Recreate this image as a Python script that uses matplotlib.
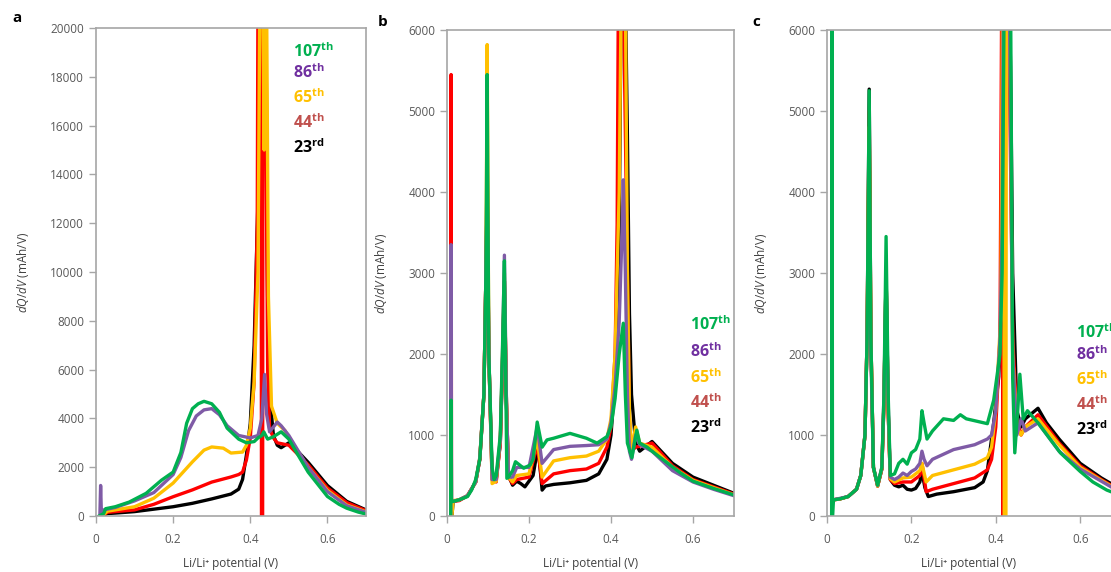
import matplotlib
matplotlib.use("Agg")
import matplotlib.pyplot as plt

plt.rcParams['font.family'] = ['Open Sans', 'DejaVu Sans']
plt.rcParams['mathtext.fontset'] = 'custom'
plt.rcParams['mathtext.rm'] = 'Open Sans'
plt.rcParams['mathtext.it'] = 'Open Sans:italic'
plt.rcParams['mathtext.bf'] = 'Open Sans:bold'

# cycle labels and colours
cycles = ["23rd", "44th", "65th", "86th", "107th"]
line_colors = ["#000000", "#FF0000", "#FFC000", "#7F5BA6", "#00B050"]
label_colors = ["#000000", "#C0504D", "#FFC000", "#7030A0", "#00B050"]

# ---- panel a ----
a_black_x = [0.015, 0.03, 0.05, 0.1, 0.15, 0.2, 0.25, 0.3, 0.35, 0.37, 0.38, 0.39, 0.40, 0.41, 0.42, 0.425,
             0.44, 0.445, 0.45, 0.46, 0.47, 0.48, 0.5, 0.52, 0.55, 0.6, 0.65, 0.7]
a_black_y = [0, 100, 120, 180, 280, 380, 520, 700, 900, 1100, 1500, 2500, 3800, 7000, 13000, 22000,
             22000, 9000, 5000, 3300, 2900, 2800, 3000, 2700, 2200, 1250, 600, 250]
a_red_x = [0.015, 0.03, 0.05, 0.1, 0.15, 0.2, 0.25, 0.3, 0.35, 0.37, 0.38, 0.39, 0.40, 0.41, 0.418, 0.42,
           0.428, 0.429, 0.432, 0.433, 0.438, 0.445, 0.45, 0.46, 0.47, 0.5, 0.55, 0.6, 0.65, 0.7]
a_red_y = [0, 150, 180, 250, 480, 790, 1070, 1390, 1600, 1700, 1800, 2300, 3200, 5500, 12000, 22000,
           22000, 0, 0, 22000, 22000, 6000, 3600, 3200, 3000, 2900, 2100, 1150, 550, 220]
a_yellow_x = [0.015, 0.03, 0.05, 0.1, 0.15, 0.2, 0.25, 0.28, 0.3, 0.33, 0.35, 0.38, 0.39, 0.4, 0.41, 0.42,
              0.425, 0.432, 0.436, 0.438, 0.442, 0.447, 0.455, 0.47, 0.49, 0.5, 0.55, 0.6, 0.65, 0.7]
a_yellow_y = [0, 200, 250, 380, 730, 1350, 2220, 2700, 2830, 2780, 2580, 2620, 2900, 3600, 5500, 10000,
              22000, 22000, 15000, 22000, 22000, 9000, 4500, 3800, 3500, 3200, 2000, 1050, 450, 170]
a_purple_x = [0.01, 0.012, 0.014, 0.02, 0.05, 0.1, 0.15, 0.2, 0.22, 0.24, 0.26, 0.28, 0.3, 0.32, 0.34,
              0.37, 0.4, 0.41, 0.42, 0.43, 0.437, 0.442, 0.45, 0.47, 0.48, 0.5, 0.55, 0.6, 0.65, 0.7]
a_purple_y = [0, 1250, 100, 250, 350, 620, 960, 1700, 2400, 3500, 4100, 4350, 4400, 4150, 3700,
              3300, 3200, 3250, 3300, 4000, 5800, 4200, 3450, 3850, 3700, 3300, 2000, 1000, 420, 150]
a_green_x = [0.008, 0.02, 0.025, 0.05, 0.086, 0.13, 0.17, 0.2, 0.22, 0.235, 0.25, 0.265, 0.28, 0.3, 0.32,
             0.34, 0.37, 0.39, 0.41, 0.42, 0.43, 0.435, 0.445, 0.46, 0.48, 0.5, 0.52, 0.55, 0.58, 0.6,
             0.63, 0.65, 0.68, 0.7]
a_green_y = [0, 100, 300, 380, 570, 930, 1470, 1800, 2600, 3800, 4400, 4600, 4700, 4600, 4250,
             3600, 3150, 3000, 3050, 3200, 3300, 3450, 3150, 3250, 3450, 3150, 2600, 1800, 1200, 800,
             480, 320, 160, 80]

# ---- panel b ----
b_black_x = [0.012, 0.015, 0.03, 0.05, 0.07, 0.08, 0.09, 0.095, 0.098, 0.102, 0.11, 0.12, 0.13, 0.135,
             0.14, 0.145, 0.15, 0.16, 0.17, 0.18, 0.19, 0.2, 0.21, 0.22, 0.225, 0.232, 0.24, 0.26, 0.3,
             0.34, 0.37, 0.39, 0.4, 0.41, 0.42, 0.425, 0.435, 0.44, 0.445, 0.45, 0.46, 0.47, 0.5, 0.55,
             0.6, 0.65, 0.7]
b_black_y = [0, 180, 200, 250, 420, 700, 1500, 3000, 4000, 2000, 500, 450, 900, 1800,
             2900, 1400, 500, 380, 430, 400, 360, 430, 500, 800, 700, 320, 370, 390, 410,
             440, 520, 700, 1000, 1700, 3500, 6500, 6500, 4700, 2500, 1500, 900, 800, 920, 650,
             480, 380, 280]
b_red_x = [0.009, 0.01, 0.011, 0.015, 0.03, 0.05, 0.07, 0.08, 0.09, 0.095, 0.098, 0.102, 0.11, 0.12,
           0.13, 0.135, 0.14, 0.145, 0.15, 0.16, 0.17, 0.2, 0.22, 0.232, 0.26, 0.3, 0.34, 0.37, 0.39,
           0.4, 0.41, 0.415, 0.418, 0.43, 0.44, 0.445, 0.45, 0.46, 0.5, 0.55, 0.6, 0.65, 0.7]
b_red_y = [0, 5450, 180, 180, 190, 250, 420, 700, 1500, 3000, 4500, 2000, 450, 420,
           900, 1800, 2900, 1400, 480, 400, 450, 480, 880, 400, 520, 560, 580, 650, 850,
           1100, 2000, 3600, 6500, 6500, 3000, 1200, 800, 850, 900, 620, 450, 360, 270]
b_yellow_x = [0.012, 0.015, 0.03, 0.05, 0.07, 0.08, 0.09, 0.095, 0.098, 0.102, 0.11, 0.12, 0.13, 0.135,
              0.14, 0.145, 0.15, 0.16, 0.17, 0.2, 0.22, 0.232, 0.26, 0.3, 0.34, 0.37, 0.39, 0.4, 0.41,
              0.42, 0.425, 0.435, 0.44, 0.445, 0.45, 0.46, 0.47, 0.5, 0.55, 0.6, 0.65, 0.7]
b_yellow_y = [0, 190, 200, 250, 420, 720, 1500, 3000, 5820, 2000, 400, 430, 950, 1900,
              3000, 1400, 480, 420, 500, 520, 950, 480, 680, 720, 740, 800, 950, 1200, 2000,
              4000, 6500, 6500, 3000, 1300, 800, 1100, 900, 850, 600, 440, 350, 260]
b_purple_x = [0.009, 0.01, 0.011, 0.015, 0.03, 0.05, 0.07, 0.08, 0.09, 0.095, 0.098, 0.102, 0.11, 0.12,
              0.13, 0.135, 0.14, 0.145, 0.15, 0.16, 0.17, 0.2, 0.22, 0.232, 0.26, 0.3, 0.34, 0.37, 0.39,
              0.4, 0.41, 0.42, 0.427, 0.43, 0.435, 0.44, 0.445, 0.45, 0.46, 0.47, 0.5, 0.55, 0.6, 0.65,
              0.7]
b_purple_y = [0, 3350, 180, 180, 200, 250, 420, 720, 1500, 3000, 4000, 2000, 450, 450,
              950, 1900, 3220, 1400, 480, 480, 600, 600, 1100, 650, 820, 860, 870, 880, 950,
              1150, 1600, 2400, 3500, 4150, 3000, 1500, 800, 700, 1000, 880, 800, 560, 420, 330,
              250]
b_green_x = [0.009, 0.01, 0.011, 0.015, 0.03, 0.05, 0.06, 0.07, 0.08, 0.09, 0.095, 0.098, 0.102, 0.11,
             0.115, 0.12, 0.13, 0.135, 0.14, 0.146, 0.15, 0.16, 0.167, 0.187, 0.203, 0.21, 0.22,
             0.232, 0.244, 0.26, 0.3, 0.34, 0.366, 0.39, 0.4, 0.41, 0.42, 0.43, 0.435, 0.44, 0.451,
             0.463, 0.47, 0.488, 0.5, 0.57, 0.6, 0.65, 0.7]
b_green_y = [0, 1430, 180, 180, 200, 240, 320, 450, 700, 1500, 3000, 5450, 2000, 600,
             450, 500, 1000, 2000, 3150, 465, 480, 560, 670, 590, 630, 700, 1160,
             850, 940, 960, 1020, 960, 900, 980, 1100, 1450, 2000, 2380, 1500, 900, 720,
             1060, 900, 850, 800, 530, 430, 340, 260]

# ---- panel c ----
c_black_x = [0.015, 0.03, 0.05, 0.07, 0.08, 0.09, 0.095, 0.1, 0.104, 0.11, 0.12, 0.13, 0.135, 0.14,
             0.145, 0.15, 0.16, 0.17, 0.18, 0.19, 0.2, 0.21, 0.22, 0.225, 0.232, 0.24, 0.26, 0.3, 0.35,
             0.37, 0.38, 0.395, 0.407, 0.415, 0.42, 0.432, 0.435, 0.44, 0.45, 0.46, 0.47, 0.5, 0.52,
             0.55, 0.6, 0.65, 0.673]
c_black_y = [200, 210, 240, 330, 500, 1000, 2200, 5270, 2200, 600, 370, 580, 1400, 3000,
             1300, 450, 380, 360, 380, 330, 320, 340, 420, 550, 350, 240, 270, 300, 350,
             420, 560, 1150, 1720, 3000, 6500, 6500, 5540, 3000, 1300, 1100, 1200, 1330, 1150,
             950, 650, 470, 400]
c_red_x = [0.015, 0.03, 0.05, 0.07, 0.08, 0.09, 0.095, 0.1, 0.104, 0.11, 0.12, 0.13, 0.135, 0.14,
           0.145, 0.15, 0.16, 0.18, 0.2, 0.22, 0.225, 0.235, 0.25, 0.3, 0.35, 0.38, 0.39, 0.4, 0.41,
           0.414, 0.416, 0.417, 0.418, 0.43, 0.44, 0.45, 0.46, 0.47, 0.5, 0.55, 0.6, 0.65, 0.673]
c_red_y = [200, 210, 240, 330, 500, 1000, 2200, 5000, 2200, 600, 370, 580, 1400, 3000,
           1300, 450, 400, 420, 420, 500, 650, 300, 330, 400, 470, 570, 700, 1100, 2200,
           6500, 6500, 0, 6500, 6500, 2200, 1200, 1000, 1100, 1250, 900, 620, 450, 380]
c_yellow_x = [0.015, 0.03, 0.05, 0.07, 0.08, 0.09, 0.095, 0.1, 0.104, 0.11, 0.12, 0.13, 0.135, 0.14,
              0.145, 0.15, 0.16, 0.18, 0.2, 0.22, 0.225, 0.235, 0.25, 0.3, 0.35, 0.38, 0.39, 0.4,
              0.412, 0.416, 0.419, 0.42, 0.424, 0.425, 0.432, 0.44, 0.45, 0.46, 0.47, 0.5, 0.55, 0.6,
              0.65, 0.673]
c_yellow_y = [200, 210, 240, 330, 500, 1000, 2200, 4800, 2200, 600, 370, 590, 1450, 3000,
              1300, 460, 420, 470, 480, 560, 650, 420, 500, 570, 640, 720, 850, 1300,
              2500, 6500, 6500, 0, 0, 6500, 6500, 2000, 1100, 1000, 1100, 1200, 880, 600,
              440, 370]
c_purple_x = [0.015, 0.05, 0.07, 0.08, 0.09, 0.095, 0.1, 0.104, 0.11, 0.12, 0.13, 0.135, 0.14, 0.145,
              0.15, 0.16, 0.17, 0.18, 0.19, 0.2, 0.21, 0.22, 0.225, 0.23, 0.237, 0.25, 0.3, 0.35, 0.38,
              0.39, 0.4, 0.41, 0.415, 0.418, 0.432, 0.44, 0.45, 0.46, 0.47, 0.5, 0.55, 0.6, 0.65, 0.673]
c_purple_y = [200, 240, 330, 500, 1000, 2200, 4300, 2000, 600, 380, 600, 1500, 3000, 1400,
              480, 450, 480, 530, 500, 550, 580, 650, 800, 700, 620, 700, 820, 880, 950,
              1000, 1300, 2200, 3500, 6500, 6500, 2000, 1000, 1200, 1050, 1150, 800, 580, 430, 360]
c_green_x = [0.011, 0.012, 0.013, 0.015, 0.03, 0.05, 0.07, 0.08, 0.09, 0.095, 0.1, 0.104, 0.11, 0.12,
             0.13, 0.135, 0.14, 0.145, 0.15, 0.16, 0.17, 0.18, 0.19, 0.2, 0.21, 0.22, 0.225, 0.23,
             0.237, 0.25, 0.276, 0.3, 0.316, 0.33, 0.355, 0.38, 0.395, 0.41, 0.415, 0.42, 0.435, 0.44,
             0.445, 0.452, 0.457, 0.465, 0.475, 0.5, 0.553, 0.6, 0.63, 0.663, 0.673]
c_green_y = [0, 6500, 0, 200, 210, 240, 330, 500, 1000, 2200, 5250, 2200, 600, 380,
             600, 1500, 3450, 1500, 500, 520, 650, 700, 640, 780, 820, 950, 1300, 1150,
             950, 1050, 1200, 1180, 1250, 1200, 1170, 1140, 1430, 2000, 3000, 6500, 6500, 1700,
             780, 1300, 1750, 1200, 1300, 1150, 780, 550, 420, 320, 300]

panel_a = [(a_black_x, a_black_y), (a_red_x, a_red_y), (a_yellow_x, a_yellow_y),
           (a_purple_x, a_purple_y), (a_green_x, a_green_y)]
panel_b = [(b_black_x, b_black_y), (b_red_x, b_red_y), (b_yellow_x, b_yellow_y),
           (b_purple_x, b_purple_y), (b_green_x, b_green_y)]
panel_c = [(c_black_x, c_black_y), (c_red_x, c_red_y), (c_yellow_x, c_yellow_y),
           (c_purple_x, c_purple_y), (c_green_x, c_green_y)]

W, H = 1111, 572
fig = plt.figure(figsize=(W / 100, H / 100), dpi=100)

def px_axes(left, top, right, bottom):
    # axes box given in pixel coordinates of the picture
    return fig.add_axes([left / W, 1 - bottom / H, (right - left) / W, (bottom - top) / H])

def style_axes(ax, xmax, ymax, ystep, show_right=True):
    ax.set_xlim(0, xmax)
    ax.set_ylim(0, ymax)
    ax.set_xticks([0, 0.2, 0.4, 0.6])
    ax.set_xticklabels(["0", "0.2", "0.4", "0.6"])
    ax.set_yticks(list(range(0, ymax + 1, ystep)))
    ax.tick_params(colors="#A6A6A6", labelcolor="#595959", labelsize=8.5, length=5, width=1)
    ax.tick_params(axis="x", pad=7)
    for side, sp in ax.spines.items():
        sp.set_color("#A6A6A6")
        sp.set_linewidth(1.2)
    ax.spines["right"].set_visible(show_right)
    ax.set_xlabel("Li/Li\u207a potential (V)", fontsize=8.5, color="#404040", labelpad=8)
    ax.set_ylabel(r"$\it{dQ/dV}$ (mAh/V)", fontsize=8.5, color="#404040", labelpad=14)

def draw_panel(ax, series):
    for (x, y), c in zip(series, line_colors):
        ax.plot(x, y, color=c, lw=2.4, solid_joinstyle="round")

ax_a = px_axes(96, 28, 366, 516)
draw_panel(ax_a, panel_a)
style_axes(ax_a, 0.7, 20000, 2000)

ax_b = px_axes(447, 30, 734, 516)
draw_panel(ax_b, panel_b)
style_axes(ax_b, 0.7, 6000, 1000)

ax_c = px_axes(827, 30, 1111, 516)
draw_panel(ax_c, panel_c)
style_axes(ax_c, 0.673, 6000, 1000, show_right=False)

# panel letters
for lab, (x, y) in zip(["a", "b", "c"], [(12, 18), (378, 22), (752, 22)]):
    fig.text(x / W, 1 - y / H, lab, fontsize=11, fontweight="bold", va="center")

# cycle labels, top to bottom
legend_pos = [(293, [148, 123, 98, 73, 52]),
              (690, [428, 403, 378, 352, 325]),
              (1076, [430, 405, 380, 355, 333])]
for x, ys in legend_pos:
    for cyc, col, y in zip(cycles, label_colors, ys):
        num, suf = cyc[:-2], cyc[-2:]
        fig.text(x / W, 1 - y / H, r"$\mathbf{%s^{%s}}$" % (num, suf), color=col,
                 fontsize=11.5, va="center")

fig.savefig("out.png", dpi=100)
